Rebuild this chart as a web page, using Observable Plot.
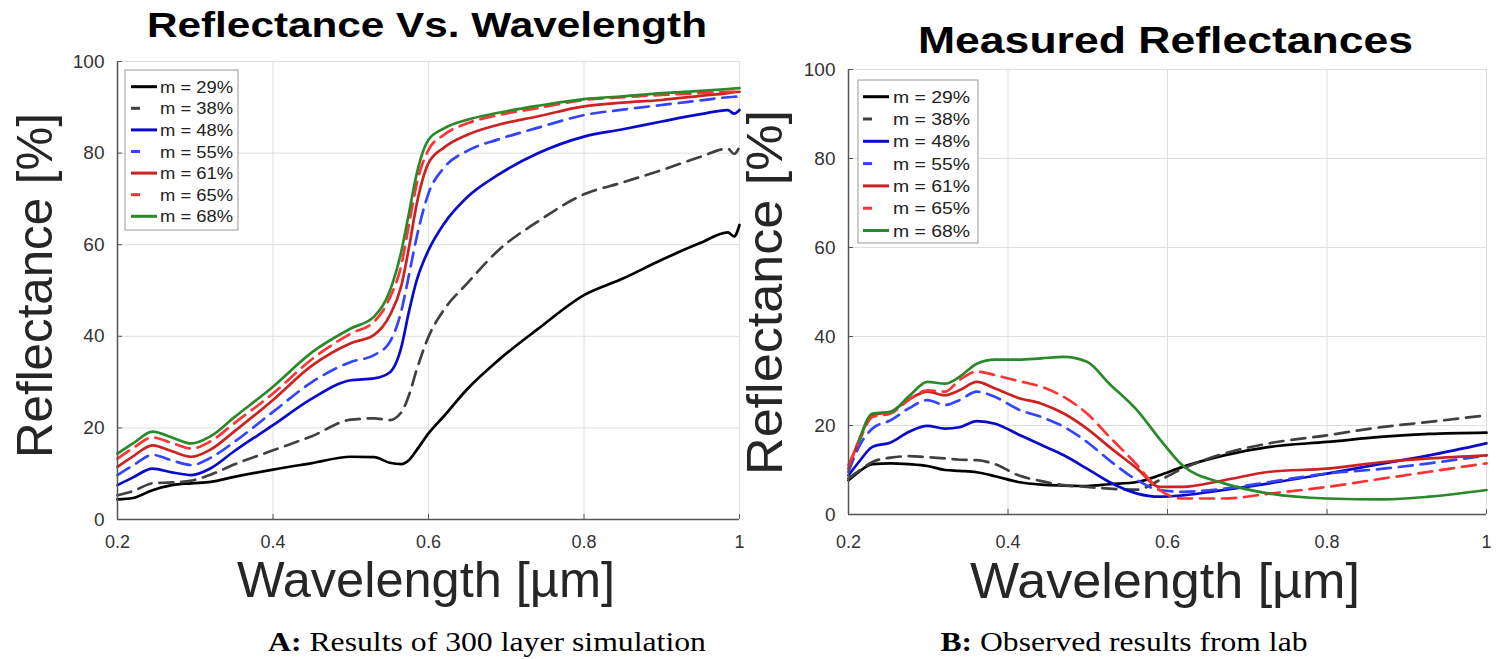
<!DOCTYPE html>
<html><head><meta charset="utf-8">
<script src="https://cdn.jsdelivr.net/npm/d3@7"></script>
<script src="https://cdn.jsdelivr.net/npm/@observablehq/plot@0.6"></script>
<style>
html,body{margin:0;padding:0;background:#fff;}
#fig{position:relative;width:1503px;height:659px;overflow:hidden;background:#fff;}
#fig svg{position:absolute;top:0;}
</style></head><body>
<div id="fig"></div>
<script>
// ---- shared ----
const xTicks = [0.2, 0.4, 0.6, 0.8, 1];
const yTicks = [0, 20, 40, 60, 80, 100];
const legendLabels = ["m = 29%", "m = 38%", "m = 48%", "m = 55%", "m = 61%", "m = 65%", "m = 68%"];
const lineColors = ["#000000", "#404040", "#0a0acc", "#3344ff", "#cc2222", "#ff3333", "#2a8a2a"];
const lineDashes = [null, "14,8", null, "14,8", null, "14,8", null];

// ---- panel A: simulation ----
const simWavelength = [0.20, 0.22, 0.245, 0.27, 0.295, 0.32, 0.35, 0.40, 0.45, 0.50, 0.53, 0.55, 0.565, 0.575, 0.585, 0.60, 0.62, 0.65, 0.69, 0.74, 0.80, 0.85, 0.90, 0.95, 0.985, 0.993, 1.0];
const sim29 = [4.4, 4.7, 6.4, 7.5, 7.9, 8.2, 9.3, 10.9, 12.3, 13.7, 13.6, 12.4, 12.1, 13.0, 15.2, 18.8, 22.6, 28.5, 34.8, 41.5, 49.0, 52.6, 56.7, 60.4, 62.7, 61.8, 64.3];
const sim38 = [5.3, 6.2, 7.9, 8.1, 8.5, 9.8, 12.0, 15.1, 18.2, 21.8, 22.1, 21.7, 23.4, 27.2, 32.8, 39.9, 45.8, 51.6, 58.8, 65.0, 71.0, 73.6, 76.3, 79.2, 81.0, 79.8, 81.4];
const sim48 = [7.5, 9.2, 11.1, 10.3, 9.7, 11.2, 14.9, 20.6, 26.4, 30.4, 30.8, 32.1, 37.6, 45.5, 52.3, 58.8, 64.6, 70.4, 75.3, 79.9, 83.6, 85.2, 86.9, 88.5, 89.4, 88.6, 89.4];
const sim55 = [9.7, 11.8, 14.1, 12.9, 11.9, 13.5, 16.9, 23.5, 30.0, 34.4, 35.9, 38.7, 45.5, 53.5, 61.8, 71.2, 76.8, 80.5, 83.0, 85.5, 88.3, 89.5, 90.5, 91.5, 92.2, 92.3, 92.4];
const sim61 = [11.5, 13.8, 16.2, 14.9, 13.7, 15.3, 19.2, 26.1, 33.6, 38.5, 40.3, 44.5, 51.0, 59.5, 69.0, 77.8, 81.2, 84.0, 86.2, 88.0, 90.2, 91.0, 91.6, 92.5, 93.1, 93.3, 93.4];
const sim65 = [13.3, 15.6, 17.9, 16.7, 15.5, 17.1, 21.0, 27.5, 35.0, 40.6, 43.2, 48.3, 55.5, 64.5, 73.4, 80.7, 84.0, 86.5, 88.3, 89.8, 91.6, 92.2, 92.7, 93.1, 93.4, 93.4, 93.4];
const sim68 = [14.4, 16.6, 19.2, 17.9, 16.6, 18.2, 22.3, 29.0, 36.5, 41.7, 44.3, 49.8, 58.5, 67.0, 75.6, 82.9, 85.4, 87.3, 88.8, 90.3, 91.8, 92.4, 93.1, 93.6, 94.0, 94.1, 94.2];

// ---- panel B: lab measurements ----
const labWavelength = [0.20, 0.213, 0.23, 0.253, 0.276, 0.299, 0.321, 0.339, 0.361, 0.384, 0.413, 0.442, 0.47, 0.499, 0.527, 0.562, 0.59, 0.619, 0.671, 0.728, 0.80, 0.871, 0.928, 1.0];
const lab29 = [7.7, 9.6, 11.3, 11.5, 11.3, 10.9, 10.0, 9.8, 9.5, 8.6, 7.3, 6.7, 6.5, 6.4, 6.8, 7.3, 8.8, 10.7, 13.3, 15.2, 16.3, 17.5, 18.1, 18.4];
const lab38 = [8.1, 9.8, 11.8, 12.8, 13.1, 12.9, 12.6, 12.3, 12.2, 11.3, 8.8, 7.5, 6.6, 6.2, 5.8, 5.6, 7.7, 10.3, 13.7, 16.0, 17.8, 19.7, 20.8, 22.3];
const lab48 = [8.8, 11.8, 15.2, 16.2, 18.6, 19.9, 19.3, 19.6, 21.0, 20.4, 18.0, 15.6, 13.3, 10.3, 7.3, 4.7, 4.0, 4.3, 5.5, 7.0, 9.2, 11.5, 13.3, 16.0];
const lab55 = [9.6, 15.2, 19.3, 21.2, 23.9, 25.7, 24.6, 25.7, 27.6, 26.4, 23.6, 21.9, 19.7, 16.3, 12.2, 7.7, 5.5, 5.1, 5.8, 7.3, 9.2, 10.3, 11.5, 13.3];
const lab61 = [10.3, 16.7, 22.3, 23.1, 25.9, 27.6, 26.8, 27.9, 29.8, 28.3, 26.2, 24.9, 22.7, 19.3, 15.2, 10.3, 6.2, 6.2, 7.7, 9.6, 10.3, 11.8, 12.6, 13.3];
const lab65 = [11.1, 16.3, 21.9, 22.7, 25.8, 27.9, 27.6, 30.2, 32.1, 31.3, 30.0, 28.7, 26.4, 22.7, 17.5, 11.1, 5.5, 3.6, 3.6, 4.7, 6.2, 8.1, 9.6, 11.5];
const lab68 = [null, 16.2, 22.7, 23.1, 26.6, 29.8, 29.4, 30.9, 33.9, 34.8, 34.8, 35.1, 35.4, 34.3, 29.4, 23.4, 17.0, 11.0, 7.0, 4.7, 3.6, 3.4, 4.0, 5.5];

// ---- texts ----
const titleA = "Reflectance Vs. Wavelength";
const titleB = "Measured Reflectances";
const yLabel = "Reflectance [%]";
const xLabel = "Wavelength [µm]";
const captionA = ["A:", " Results of 300 layer simulation"];
const captionB = ["B:", " Observed results from lab"];

function makePanel(wl, series, cfg) {
  const rows = [];
  series.forEach((vals, k) => vals.forEach((v, j) => { if (v != null) rows.push({w: wl[j], r: v, k}); }));
  const lines = series.map((_, k) => Plot.line(rows.filter(d => d.k === k), {
    x: "w", y: "r", stroke: lineColors[k], strokeWidth: 2.7,
    strokeDasharray: lineDashes[k], curve: "monotone-x"
  }));
  const svg = Plot.plot({
    width: cfg.width, height: cfg.height,
    marginLeft: cfg.ml, marginRight: cfg.mr, marginTop: cfg.mt, marginBottom: cfg.mb,
    x: {domain: [0.2, 1]},
    y: {domain: [0, 100]},
    style: {fontFamily: "'Liberation Sans', Arial, sans-serif", color: "#333", background: "transparent", overflow: "visible"},
    marks: [
      Plot.gridX(xTicks, {stroke: "#dedede", strokeOpacity: 1, strokeWidth: 1}),
      Plot.gridY(yTicks, {stroke: "#dedede", strokeOpacity: 1, strokeWidth: 1}),
      ...lines,
      Plot.ruleX([0.2], {stroke: "#555", strokeWidth: 1.5}),
      Plot.ruleY([0], {stroke: "#555", strokeWidth: 1.5}),
      Plot.axisX(xTicks, {label: null, tickSize: -5, tickPadding: cfg.xpad, fontSize: 18, tickFormat: d => String(d), stroke: "#555", fill: "#333"}),
      Plot.axisY(yTicks, {label: null, tickSize: -5, tickPadding: 18, fontSize: 19, tickFormat: d => String(d), stroke: "#555", fill: "#333"})
    ]
  });
  svg.style.left = cfg.left + "px";
  return svg;
}

const fig = document.getElementById("fig");
fig.appendChild(makePanel(simWavelength, [sim29, sim38, sim48, sim55, sim61, sim65, sim68],
  {left: 0, width: 760, height: 560, ml: 117, mr: 21, mt: 61, mb: 41, xpad: 21}));
fig.appendChild(makePanel(labWavelength, [lab29, lab38, lab48, lab55, lab61, lab65, lab68],
  {left: 760, width: 743, height: 560, ml: 88, mr: 17, mt: 69, mb: 46, xpad: 26}));

// ---- overlay: titles, axis labels, legends, captions ----
const ov = d3.select(fig).append("svg").attr("width", 1503).attr("height", 659).style("left", "0px");
const sans = "'Liberation Sans', Arial, Helvetica, sans-serif";
const serif = "'Liberation Serif', 'Times New Roman', serif";

function txt(x, y, s, o) {
  const t = ov.append("text").attr("x", x).attr("y", y).text(s)
    .attr("font-family", o.family || sans).attr("font-size", o.size)
    .attr("font-weight", o.weight || "normal").attr("fill", o.fill || "#222")
    .attr("text-anchor", o.anchor || "start");
  if (o.len) t.attr("textLength", o.len).attr("lengthAdjust", "spacingAndGlyphs");
  if (o.rotate) t.attr("transform", `rotate(-90 ${x} ${y})`);
  return t;
}

txt(147, 37, titleA, {size: 35, weight: "bold", fill: "#000", len: 560});
txt(918, 53, titleB, {size: 36, weight: "bold", fill: "#000", len: 495});

txt(52, 285.5, yLabel, {size: 50, anchor: "middle", len: 345, rotate: true, fill: "#262626"});
txt(782, 292.5, yLabel, {size: 50, anchor: "middle", len: 365, rotate: true, fill: "#262626"});

txt(426, 597, xLabel, {size: 50, anchor: "middle", len: 378, fill: "#262626"});
txt(1165, 598, xLabel, {size: 50, anchor: "middle", len: 390, fill: "#262626"});

function caption(cx, y, parts, len) {
  const t = ov.append("text").attr("x", cx).attr("y", y).attr("text-anchor", "middle")
    .attr("font-family", serif).attr("font-size", 28).attr("fill", "#000")
    .attr("textLength", len).attr("lengthAdjust", "spacingAndGlyphs");
  t.append("tspan").attr("font-weight", "bold").text(parts[0]);
  t.append("tspan").text(parts[1]);
}
caption(487, 651, captionA, 438);
caption(1124, 651, captionB, 367);

function legend(bx, by, bw, bh, y0, dy, sx0, sx1, tx, tlen) {
  ov.append("rect").attr("x", bx).attr("y", by).attr("width", bw).attr("height", bh)
    .attr("fill", "#fff").attr("stroke", "#999").attr("stroke-width", 1);
  legendLabels.forEach((lab, i) => {
    const y = y0 + i * dy;
    const dashed = lineDashes[i] != null;
    ov.append("line").attr("x1", sx0).attr("x2", dashed ? sx0 + 9 : sx1).attr("y1", y).attr("y2", y)
      .attr("stroke", lineColors[i]).attr("stroke-width", 3);
    txt(tx, y + 6, lab, {size: 16, len: tlen, fill: "#222"});
  });
}
legend(125, 70, 113, 160, 86.7, 21.6, 131, 157, 160, 73);
legend(858, 80, 120, 163, 96.7, 22.3, 863, 889, 893, 77);
</script>
</body></html>
